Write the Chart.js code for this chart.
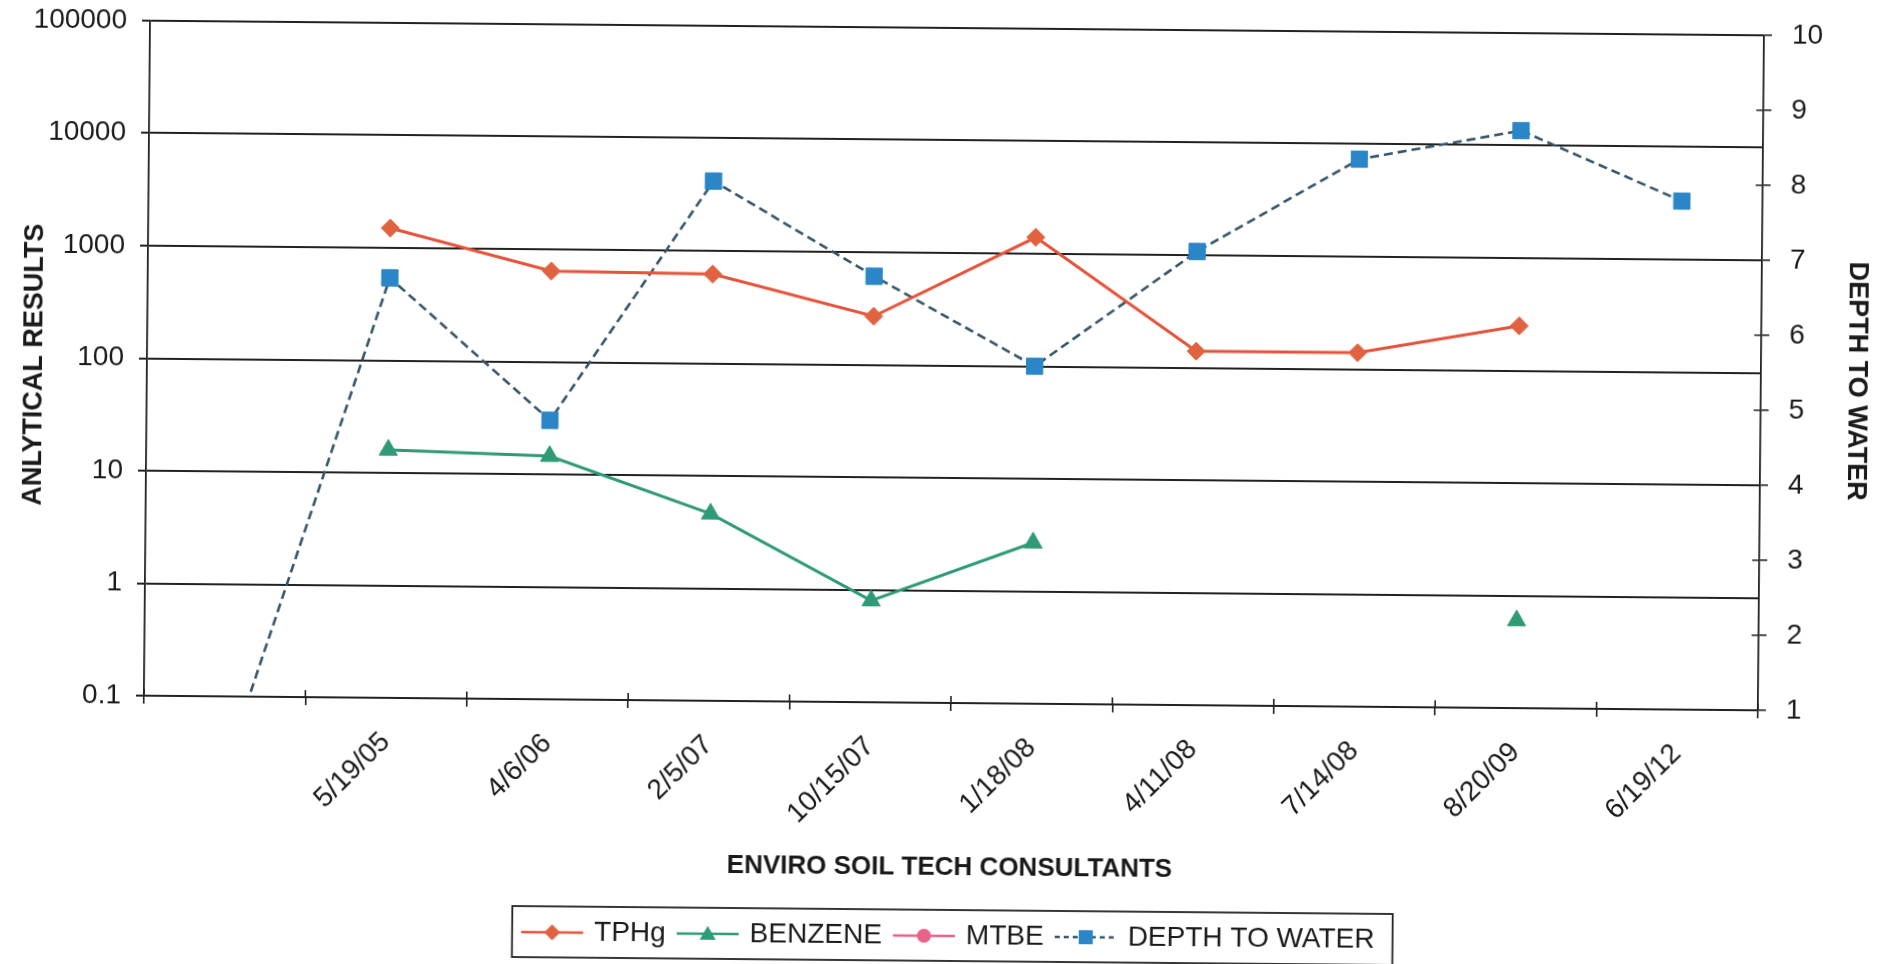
<!DOCTYPE html>
<html>
<head>
<meta charset="utf-8">
<title>Analytical results and depth to water</title>
<script src="https://cdn.jsdelivr.net/npm/chart.js@4/dist/chart.umd.min.js"></script>
<style>
  html, body { margin: 0; padding: 0; background: #ffffff; overflow: hidden; }
  #wrap { width: 1891px; height: 964px; position: relative; }
  #chart {
    display: block;
    transform: rotate(0.52deg);
    transform-origin: 954px 364px;
  }
</style>
</head>
<body>
<div id="wrap"><canvas id="chart" width="1891" height="964"></canvas></div>
<script>
// Sampling dates (first slot is an unlabeled lead-in category)
const categories = ['', '5/19/05', '4/6/06', '2/5/07', '10/15/07', '1/18/08', '4/11/08', '7/14/08', '8/20/09', '6/19/12'];

// Analytical results (log scale, left axis)
const tphg    = [null, 1500, 640, 620, 270, 1400, 140, 140, 250, null];
const benzene = [null, 16, 14.5, 4.6, 0.8, 2.7, null, null, 0.6, null];
const mtbe    = [null, null, null, null, null, null, null, null, null, null];

// Depth to water (linear, right axis)
const depthToWater = [0, 6.6, 4.72, 7.93, 6.68, 5.5, 7.05, 8.3, 8.7, 7.78];

// Axis ticks
const leftTicks = [0.1, 1, 10, 100, 1000, 10000, 100000];
const leftTickLabels = ['0.1', '1', '10', '100', '1000', '10000', '100000'];
const rightTicks = [1, 2, 3, 4, 5, 6, 7, 8, 9, 10];

const FONT = "'Liberation Sans', Arial, Helvetica, sans-serif";
const INK = '#1a1a1a';
const GRID = '#222222';

const colors = {
  tphgLine: '#e6523a', tphgMark: '#e0623f',
  benzLine: '#2f9a78', benzMark: '#2f9a78',
  mtbeLine: '#e8628a', mtbeMark: '#e8628a',
  dtwLine: '#35566a',  dtwMark: '#2a86c6'
};

// Legend symbol: a short line with the series marker in the middle
function legendSymbol(lineColor, markColor, dash, shape) {
  const c = document.createElement('canvas');
  c.width = 64; c.height = 22;
  const g = c.getContext('2d');
  g.strokeStyle = lineColor;
  g.lineWidth = 2.5;
  g.setLineDash(dash);
  g.beginPath(); g.moveTo(1, 11); g.lineTo(63, 11); g.stroke();
  g.setLineDash([]);
  g.fillStyle = markColor;
  g.beginPath();
  if (shape === 'diamond') {
    g.moveTo(32, 3); g.lineTo(40, 11); g.lineTo(32, 19); g.lineTo(24, 11);
  } else if (shape === 'triangle') {
    g.moveTo(32, 3); g.lineTo(40, 17); g.lineTo(24, 17);
  } else if (shape === 'circle') {
    g.arc(32, 11, 7, 0, Math.PI * 2);
  } else {
    g.rect(25, 4, 14, 14);
  }
  g.closePath(); g.fill();
  return c;
}

const symbols = [
  legendSymbol(colors.tphgLine, colors.tphgMark, [], 'diamond'),
  legendSymbol(colors.benzLine, colors.benzMark, [], 'triangle'),
  legendSymbol(colors.mtbeLine, colors.mtbeMark, [], 'circle'),
  legendSymbol(colors.dtwLine, colors.dtwMark, [5, 4], 'square')
];

// Vertical axes: let the plot reach the top padding regardless of label size
function fixVertical(width) {
  return function (scale) {
    scale.width = width;
    scale.paddingTop = 0;
    scale.paddingBottom = 0;
  };
}

// Inner halves of the category and right-axis tick marks, plus the legend frame
const decorations = {
  id: 'decorations',
  afterDraw(chart) {
    const ctx = chart.ctx;
    const x = chart.scales.x;
    const y1 = chart.scales.y1;
    const area = chart.chartArea;
    ctx.save();
    ctx.strokeStyle = GRID;
    ctx.lineWidth = 1.6;
    const step = x.getPixelForValue(1) - x.getPixelForValue(0);
    ctx.beginPath();
    for (let i = 0; i <= categories.length; i++) {
      const px = x.getPixelForValue(i) - step / 2;
      ctx.moveTo(px, area.bottom);
      ctx.lineTo(px, area.bottom - 7);
    }
    rightTicks.forEach(v => {
      const py = y1.getPixelForValue(v);
      ctx.moveTo(area.right, py);
      ctx.lineTo(area.right - 7, py);
    });
    ctx.stroke();

    const lg = chart.legend;
    if (lg && lg.legendHitBoxes && lg.legendHitBoxes.length) {
      const boxes = lg.legendHitBoxes;
      const l = Math.min(...boxes.map(b => b.left)) - 12;
      const r = Math.max(...boxes.map(b => b.left + b.width)) + 18;
      const t = Math.min(...boxes.map(b => b.top)) - 12;
      const b = Math.max(...boxes.map(b => b.top + b.height)) + 11;
      ctx.lineWidth = 1.8;
      ctx.strokeStyle = '#222';
      ctx.strokeRect(l, t, r - l, b - t);
    }
    ctx.restore();
  }
};

new Chart(document.getElementById('chart'), {
  type: 'line',
  data: {
    labels: categories,
    datasets: [
      {
        label: 'TPHg', data: tphg, yAxisID: 'y',
        borderColor: colors.tphgLine, backgroundColor: colors.tphgMark,
        borderWidth: 3, pointStyle: 'rectRot', pointRadius: 9,
        pointBackgroundColor: colors.tphgMark, pointBorderColor: colors.tphgMark, pointBorderWidth: 1
      },
      {
        label: 'BENZENE', data: benzene, yAxisID: 'y',
        borderColor: colors.benzLine, backgroundColor: colors.benzMark,
        borderWidth: 3, pointStyle: 'triangle', pointRadius: 10.5,
        pointBackgroundColor: colors.benzMark, pointBorderColor: colors.benzMark, pointBorderWidth: 1
      },
      {
        label: 'MTBE', data: mtbe, yAxisID: 'y',
        borderColor: colors.mtbeLine, backgroundColor: colors.mtbeMark,
        borderWidth: 3, pointStyle: 'circle', pointRadius: 7,
        pointBackgroundColor: colors.mtbeMark, pointBorderColor: colors.mtbeMark
      },
      {
        label: 'DEPTH TO WATER', data: depthToWater, yAxisID: 'y1',
        borderColor: colors.dtwLine, backgroundColor: colors.dtwMark,
        borderWidth: 2.6, borderDash: [9, 5], pointStyle: 'rect', pointRadius: 11.5,
        pointBackgroundColor: colors.dtwMark, pointBorderColor: colors.dtwMark, pointBorderWidth: 1
      }
    ]
  },
  options: {
    responsive: false,
    animation: false,
    devicePixelRatio: 1,
    layout: { padding: { top: 28, bottom: 4, left: 18, right: 0 } },
    plugins: {
      tooltip: { enabled: false },
      legend: {
        position: 'bottom',
        labels: {
          usePointStyle: true,
          pointStyleWidth: 56,
          padding: 14,
          color: INK,
          font: { family: FONT, size: 28 },
          generateLabels(chart) {
            return chart.data.datasets.map((ds, i) => ({
              text: ds.label,
              pointStyle: symbols[i],
              fillStyle: 'transparent',
              strokeStyle: 'transparent',
              lineWidth: 0,
              hidden: false,
              datasetIndex: i,
              fontColor: INK
            }));
          }
        }
      }
    },
    scales: {
      x: {
        type: 'category',
        offset: true,
        afterFit(scale) { scale.height = 205; },
        grid: { display: true, offset: true, drawOnChartArea: false, drawTicks: true, tickLength: 8, color: GRID, lineWidth: 1.6 },
        border: { display: true, color: GRID, width: 2 },
        ticks: {
          autoSkip: false, maxRotation: 45, minRotation: 45, padding: 20,
          color: INK, font: { family: FONT, size: 28 }
        },
        title: {
          display: true, text: 'ENVIRO SOIL TECH CONSULTANTS', color: INK,
          font: { family: FONT, size: 26, weight: 'bold' },
          padding: { top: 0, bottom: 25 }
        }
      },
      y: {
        type: 'logarithmic',
        position: 'left',
        min: 0.1, max: 100000,
        afterFit: fixVertical(129),
        afterBuildTicks(scale) { scale.ticks = leftTicks.map(v => ({ value: v })); },
        grid: { color: GRID, lineWidth: 2, drawTicks: true, tickLength: 8 },
        border: { display: true, color: GRID, width: 1.8 },
        ticks: {
          padding: 15, color: INK, font: { family: FONT, size: 28 },
          callback(value) {
            const i = leftTicks.indexOf(value);
            return i >= 0 ? leftTickLabels[i] : '';
          }
        },
        title: {
          display: true, text: 'ANLYTICAL RESULTS  ', color: INK,
          font: { family: FONT, size: 27, weight: 'bold' },
          padding: { top: 0, bottom: 0 }
        }
      },
      y1: {
        type: 'linear',
        position: 'right',
        min: 1, max: 10,
        afterFit: fixVertical(130),
        grid: { drawOnChartArea: false, drawTicks: true, tickLength: 8, color: GRID, lineWidth: 1.6 },
        border: { display: true, color: GRID, width: 1.8 },
        ticks: { stepSize: 1, padding: 20, color: INK, font: { family: FONT, size: 28 } },
        title: {
          display: true, text: '  DEPTH TO WATER', color: INK,
          font: { family: FONT, size: 27, weight: 'bold' },
          padding: { top: 18, bottom: 0 }
        }
      }
    }
  },
  plugins: [decorations]
});
</script>
</body>
</html>
